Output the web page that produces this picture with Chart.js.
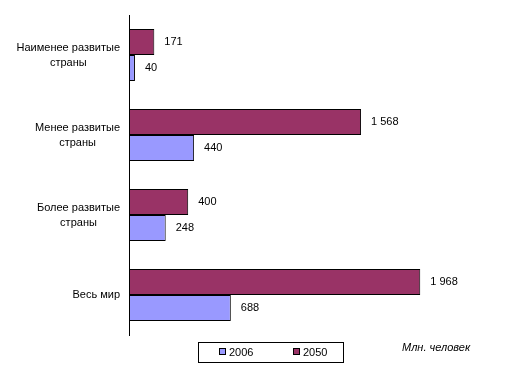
<!DOCTYPE html>
<html>
<head>
<meta charset="utf-8">
<script src="https://cdn.jsdelivr.net/npm/chart.js@4"></script>
<style>
    body { margin: 0; background: #fff; }
    #wrap { position: relative; width: 514px; height: 375px; font-family: "Liberation Sans", Arial, sans-serif; }
    #legend { position: absolute; left: 198px; top: 342px; width: 144px; height: 19px; border: 1px solid #000; font-size: 11px; }
    #legend .item { position: absolute; top: 3px; line-height: 13px; }
    #legend .box { display: inline-block; width: 5px; height: 5px; border: 1px solid #000; margin-right: 3px; vertical-align: 1px; }
    #unit { position: absolute; left: 402px; top: 341px; font-size: 11px; font-style: italic; line-height: 13px; }
</style>
</head>
<body>
<div id="wrap">
    <canvas id="chart" width="514" height="375"></canvas>
    <div id="legend"></div>
    <div id="unit">Млн. человек</div>
</div>
<script>
const categories = [
    ['Наименее развитые', 'страны'],
    ['Менее развитые', 'страны'],
    ['Более развитые', 'страны'],
    ['Весь мир']
];
const values2050 = [171, 1568, 400, 1968];
const values2006 = [40, 440, 248, 688];
const valueLabels2050 = ['171', '1 568', '400', '1 968'];
const valueLabels2006 = ['40', '440', '248', '688'];
const seriesNames = ['2006', '2050'];
const seriesColors = ['#9999FF', '#993366'];

const font = '11px "Liberation Sans", Arial, sans-serif';

// category labels: block right-aligned at the axis, lines centred inside the block
const categoryLabels = {
    id: 'categoryLabels',
    afterDraw(chart) {
        const ctx = chart.ctx;
        const yScale = chart.scales.y;
        ctx.save();
        ctx.font = font;
        ctx.fillStyle = '#000';
        ctx.textAlign = 'center';
        ctx.textBaseline = 'middle';
        const lineHeight = 15;
        categories.forEach((lines, i) => {
            const yc = yScale.getPixelForTick(i);
            const blockW = Math.max(...lines.map(l => ctx.measureText(l).width));
            const xc = yScale.right - 9 - blockW / 2;
            const y0 = yc - (lines.length - 1) * lineHeight / 2;
            lines.forEach((l, j) => ctx.fillText(l, xc, y0 + j * lineHeight));
        });
        ctx.restore();
    }
};

// value labels to the right of each bar
const valueLabels = {
    id: 'valueLabels',
    afterDatasetsDraw(chart) {
        const ctx = chart.ctx;
        ctx.save();
        ctx.font = font;
        ctx.fillStyle = '#000';
        ctx.textAlign = 'left';
        ctx.textBaseline = 'middle';
        [valueLabels2050, valueLabels2006].forEach((texts, d) => {
            chart.getDatasetMeta(d).data.forEach((bar, i) => {
                ctx.fillText(texts[i], bar.x + 10, bar.y);
            });
        });
        ctx.restore();
    }
};

new Chart(document.getElementById('chart').getContext('2d'), {
    type: 'bar',
    data: {
        labels: categories,
        datasets: [
            {
                label: seriesNames[1],
                data: values2050,
                backgroundColor: seriesColors[1],
                borderColor: '#000',
                borderWidth: 1,
                borderSkipped: false
            },
            {
                label: seriesNames[0],
                data: values2006,
                backgroundColor: seriesColors[0],
                borderColor: '#000',
                borderWidth: 1,
                borderSkipped: false
            }
        ]
    },
    options: {
        indexAxis: 'y',
        responsive: false,
        animation: false,
        layout: { padding: { top: 15, bottom: 40, right: 15, left: 0 } },
        datasets: { bar: { categoryPercentage: 0.65, barPercentage: 1 } },
        plugins: {
            legend: { display: false },
            tooltip: { enabled: false }
        },
        scales: {
            x: { display: false, min: 0, max: 2500 },
            y: {
                grid: { display: false },
                border: { display: true, color: '#000', width: 1 },
                ticks: { display: false },
                afterFit(scale) { scale.width = 129; }
            }
        }
    },
    plugins: [categoryLabels, valueLabels]
});

const legend = document.getElementById('legend');
const legendLefts = [20, 94];
seriesNames.forEach((name, i) => {
    const item = document.createElement('span');
    item.className = 'item';
    item.style.left = legendLefts[i] + 'px';
    item.innerHTML = '<span class="box" style="background:' + seriesColors[i] + '"></span>' + name;
    legend.appendChild(item);
});
</script>
</body>
</html>
